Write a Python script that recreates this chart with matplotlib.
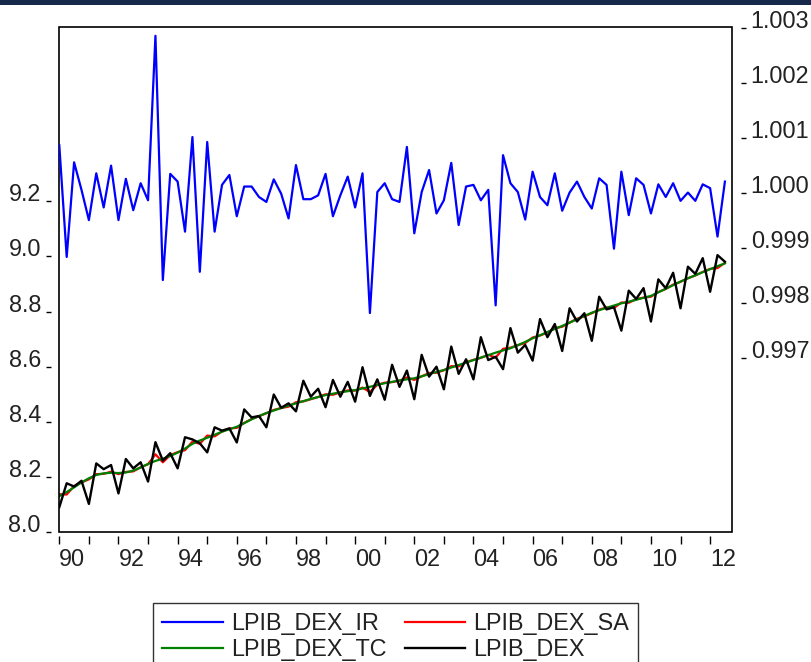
import numpy as np
import pandas as pd
import matplotlib
matplotlib.use("Agg")
import matplotlib.pyplot as plt
from matplotlib.patches import Rectangle

plt.rcParams['font.family'] = ['Liberation Sans', 'DejaVu Sans']

# quarterly series, 1990Q1 - 2012Q3
lpib_dex = [8.090, 8.177, 8.165, 8.186, 8.102, 8.249, 8.228, 8.243, 8.140, 8.265,
            8.231, 8.253, 8.183, 8.326, 8.259, 8.286, 8.231, 8.344, 8.336, 8.322,
            8.289, 8.380, 8.368, 8.376, 8.325, 8.445, 8.416, 8.421, 8.380, 8.499,
            8.451, 8.467, 8.438, 8.549, 8.491, 8.520, 8.453, 8.552, 8.491, 8.545,
            8.473, 8.598, 8.494, 8.554, 8.480, 8.607, 8.527, 8.586, 8.482, 8.643,
            8.564, 8.600, 8.518, 8.673, 8.574, 8.627, 8.554, 8.707, 8.624, 8.636,
            8.591, 8.740, 8.651, 8.679, 8.622, 8.773, 8.707, 8.755, 8.657, 8.812,
            8.764, 8.794, 8.694, 8.854, 8.808, 8.816, 8.731, 8.876, 8.846, 8.885,
            8.764, 8.917, 8.885, 8.941, 8.812, 8.963, 8.937, 8.994, 8.872, 9.005,
            8.981]

lpib_dex_tc = [8.130, 8.145, 8.162, 8.180, 8.195, 8.207, 8.213, 8.215, 8.214, 8.216,
               8.223, 8.234, 8.247, 8.258, 8.266, 8.276, 8.288, 8.303, 8.320, 8.332,
               8.342, 8.353, 8.364, 8.373, 8.382, 8.395, 8.409, 8.421, 8.432, 8.441,
               8.450, 8.459, 8.467, 8.475, 8.483, 8.490, 8.497, 8.502, 8.507, 8.511,
               8.515, 8.521, 8.527, 8.534, 8.540, 8.545, 8.550, 8.554, 8.558, 8.565,
               8.573, 8.581, 8.588, 8.597, 8.606, 8.615, 8.624, 8.633, 8.642, 8.651,
               8.659, 8.667, 8.678, 8.690, 8.703, 8.714, 8.726, 8.737, 8.748, 8.760,
               8.772, 8.784, 8.796, 8.805, 8.814, 8.822, 8.830, 8.836, 8.843, 8.850,
               8.857, 8.870, 8.883, 8.896, 8.909, 8.921, 8.932, 8.943, 8.954, 8.965,
               8.975]

lpib_dex_sa = [8.137, 8.136, 8.167, 8.180, 8.191, 8.210, 8.211, 8.219, 8.210, 8.218,
               8.220, 8.235, 8.246, 8.282, 8.253, 8.279, 8.290, 8.297, 8.328, 8.320,
               8.350, 8.347, 8.365, 8.376, 8.378, 8.396, 8.410, 8.420, 8.431, 8.443,
               8.450, 8.455, 8.471, 8.474, 8.482, 8.490, 8.500, 8.498, 8.507, 8.514,
               8.513, 8.524, 8.508, 8.534, 8.542, 8.544, 8.549, 8.561, 8.552, 8.565,
               8.577, 8.578, 8.587, 8.602, 8.601, 8.616, 8.625, 8.632, 8.643, 8.633,
               8.665, 8.669, 8.678, 8.686, 8.706, 8.713, 8.724, 8.740, 8.745, 8.760,
               8.774, 8.783, 8.794, 8.807, 8.815, 8.813, 8.833, 8.832, 8.845, 8.851,
               8.854, 8.871, 8.882, 8.898, 8.908, 8.921, 8.931, 8.944, 8.955, 8.958,
               8.977]

lpib_dex_ir = [1.00087, 0.99884, 1.00056, 1.00006, 0.99951, 1.00036, 0.99974, 1.00050, 0.99951, 1.00026,
               0.99969, 1.00018, 0.99987, 1.00286, 0.99842, 1.00035, 1.00021, 0.99930, 1.00102, 0.99857,
               1.00093, 0.99930, 1.00015, 1.00033, 0.99958, 1.00012, 1.00012, 0.99993, 0.99984, 1.00025,
               0.99999, 0.99954, 1.00051, 0.99989, 0.99989, 0.99996, 1.00035, 0.99958, 0.99996, 1.00030,
               0.99974, 1.00036, 0.99782, 1.00002, 1.00018, 0.99989, 0.99984, 1.00084, 0.99927, 1.00002,
               1.00042, 0.99963, 0.99987, 1.00055, 0.99942, 1.00012, 1.00015, 0.99987, 1.00006, 0.99796,
               1.00069, 1.00018, 1.00002, 0.99952, 1.00039, 0.99993, 0.99978, 1.00036, 0.99968, 1.00001,
               1.00021, 0.99993, 0.99972, 1.00027, 1.00015, 0.99899, 1.00039, 0.99960, 1.00027, 1.00015,
               0.99963, 1.00016, 0.99993, 1.00018, 0.99986, 1.00001, 0.99986, 1.00016, 1.00009, 0.99921,
               1.00021]

left_ticks = [8.0, 8.2, 8.4, 8.6, 8.8, 9.0, 9.2]
right_ticks = [0.997, 0.998, 0.999, 1.000, 1.001, 1.002, 1.003]
year_ticks = list(range(1990, 2013))
year_labels = ["%02d" % (y % 100) if y % 2 == 0 else "" for y in year_ticks]

quarters = pd.period_range("1990Q1", periods=len(lpib_dex), freq="Q")
t = np.asarray(quarters.year + (quarters.quarter - 1) / 4.0, dtype=float)

W, H = 812, 662
fig = plt.figure(figsize=(W / 100, H / 100), dpi=100)
fig.patch.set_facecolor("white")
fig.add_artist(Rectangle((0, 1 - 5 / H), 1, 5 / H, transform=fig.transFigure,
                         facecolor="#17294b", edgecolor="none"))

ax = fig.add_axes([59.3 / W, 1 - 532 / H, (732.3 - 59.3) / W, (532 - 27) / H])
ax2 = ax.twinx()

l_sa, = ax.plot(t, lpib_dex_sa, color="#ff0000", lw=1.6)
l_tc, = ax.plot(t, lpib_dex_tc, color="#008000", lw=1.6)
l_dex, = ax.plot(t, lpib_dex, color="black", lw=1.7)
l_ir, = ax2.plot(t, lpib_dex_ir, color="#0000ff", lw=1.6)

ax.set_xlim(1990, 2012.75)
ax.set_ylim(8.0, 9.833)
ax2.set_ylim(0.99384, 1.00302)

# frame drawn separately, ticks sit a bit away from it (EViews look)
for a in (ax, ax2):
    for s in a.spines.values():
        s.set_visible(False)
ax.spines["left"].set_position(("outward", 6))
ax.spines["bottom"].set_position(("outward", 3))
ax2.spines["right"].set_position(("outward", 6))
ax2.add_artist(Rectangle((0, 0), 1, 1, transform=ax.transAxes, fill=False,
                         edgecolor="black", lw=1.2, clip_on=False))

txt = "#222222"
ax.set_yticks(left_ticks)
ax.set_yticklabels(["%.1f" % v for v in left_ticks])
ax2.set_yticks(right_ticks)
ax2.set_yticklabels(["%.3f" % v for v in right_ticks])
ax.set_xticks(year_ticks)
ax.set_xticklabels(year_labels)

ax.tick_params(axis="y", direction="out", length=3.6, width=1, pad=3.6,
               labelsize=16.8, labelcolor=txt)
ax2.tick_params(axis="y", direction="out", length=3.6, width=1, pad=3.6,
                labelsize=16.8, labelcolor=txt)
ax.tick_params(axis="x", direction="out", length=5.8, width=1, pad=2.6,
               labelsize=16.8, labelcolor=txt)
plt.setp(ax.get_xticklabels(), ha="left")
plt.setp(ax.get_yticklabels(), va="baseline")
plt.setp(ax2.get_yticklabels(), va="baseline")

leg = fig.legend([l_ir, l_tc, l_sa, l_dex],
                 ["LPIB_DEX_IR", "LPIB_DEX_TC", "LPIB_DEX_SA", "LPIB_DEX"],
                 loc="upper left", bbox_to_anchor=(153 / W, 1 - 603 / H), ncol=2,
                 frameon=True, fancybox=False, framealpha=1, edgecolor="#333333",
                 borderaxespad=0, handlelength=2.58, handletextpad=0.35,
                 columnspacing=0.8, labelspacing=0.13, borderpad=0.4,
                 fontsize=16.8)
leg.get_frame().set_linewidth(1.0)
for txt_item in leg.get_texts():
    txt_item.set_color(txt)

fig.savefig("out.png", dpi=100)
